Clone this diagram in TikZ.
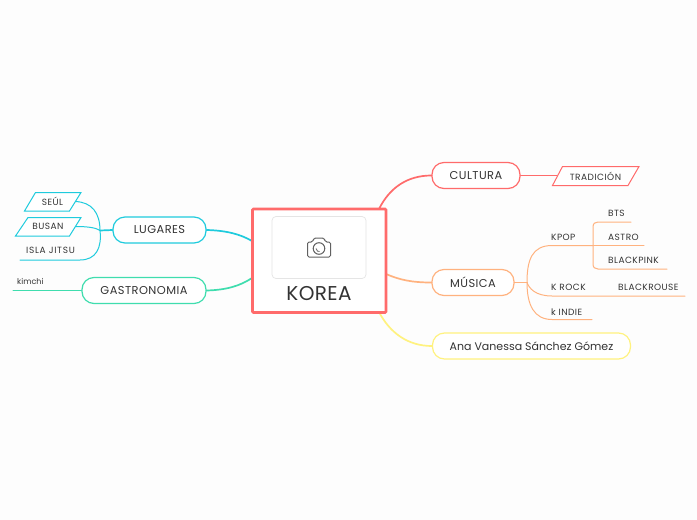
\documentclass[tikz,border=0pt]{standalone}
\usepackage{fontspec}
\setmainfont{Poppins}
\newfontfamily\spacedf[LetterSpace=4]{Poppins}
\newfontfamily\leaff[LetterSpace=5]{Poppins}
\newfontfamily\widef[LetterSpace=8]{Poppins}
\newfontfamily\titlef[LetterSpace=2]{Poppins}
\newcommand{\lowered}[1]{\raisebox{-.8pt}{#1}}
\definecolor{bgc}{HTML}{FDFDFD}
\definecolor{red}{HTML}{FF6B6B}
\definecolor{ora}{HTML}{FFB27F}
\definecolor{yel}{HTML}{FFF27F}
\definecolor{cya}{HTML}{1FCBDD}
\definecolor{gre}{HTML}{3FDDAE}
\definecolor{txt}{HTML}{333333}
\tikzset{x=1pt,y=-1pt,
 branch/.style={draw=#1,rounded corners=12pt,line width=1.2pt,fill=white,minimum height=26pt,inner sep=0pt,text=txt,font=\spacedf\fontsize{11.4}{13}\selectfont,anchor=center},
 leaf/.style={text=txt,font=\leaff\fontsize{9}{11}\selectfont,inner sep=0pt,anchor=center,yshift=-.7pt},
 para/.style={draw=#1,line width=1pt,fill=white,line join=miter},
 link/.style={draw=#1,line width=1pt,line cap=round},
 thick link/.style={draw=#1,line width=1.7pt,line cap=round},
 cam/.style={draw=black!62,line width=1pt,line join=round}}
\begin{document}
\begin{tikzpicture}
\useasboundingbox (0,0) rectangle (697,520);
\fill[bgc] (0,0) rectangle (697,520);
\node[branch=red,minimum width=88pt] (cul) at (476,175.5) {\lowered{CULTURA}};
\node[branch=ora,minimum width=82pt] (mus) at (473,282.5) {\lowered{MÚSICA}};
\node[branch=yel,minimum width=198pt,font=\fontsize{11}{13}\selectfont] (ana) at (531.5,346) {\lowered{Ana Vanessa Sánchez Gómez}};
\node[branch=cya,minimum width=93pt] (lug) at (159.5,230) {\lowered{LUGARES}};
\node[branch=gre,minimum width=124pt] (gas) at (144,290.5) {\lowered{GASTRONOMIA}};
\draw[thick link=red] (379,209) .. controls (390,187) and (408,175.5) .. (cul.west);
\draw[thick link=ora] (386,274) .. controls (400,280) and (412,282.5) .. (mus.west);
\draw[thick link=yel] (379,312) .. controls (390,333) and (408,346) .. (ana.west);
\draw[thick link=cya] (lug.east) .. controls (226,230.5) and (240,234) .. (252,241);
\draw[thick link=gre] (gas.east) .. controls (226,290) and (240,286) .. (252,278);
% main box
\draw[red,line width=2.6pt,rounded corners=1pt,fill=white] (252.5,209) rectangle (386,312.5);
\draw[black!10,line width=.7pt,fill=white,rounded corners=4pt] (272,216.5) rectangle (366,278.5);
\node[text=txt,font=\titlef\fontsize{20}{22}\selectfont,inner sep=0pt] (kor) at (319,293.5) {KOREA};
% camera
\draw[cam,rounded corners=1.5pt] (307.5,257) -- (330.5,257) -- (330.5,242) -- (325.5,242) -- (324,238) -- (314,238) -- (312.5,242) -- (307.5,242) -- cycle;
\draw[cam] (319,248.5) circle (5.8pt);
\draw[cam,line width=.8pt] (316,248.5) arc (180:280:3pt);
% cultura
\coordinate (tradL) at (557,175.5);
\draw[link=red] (cul.east) -- (tradL);
\draw[para=red] (552.5,185.5) -- (562.5,166.5) -- (639,166.5) -- (628,185.5) -- cycle;
\node[leaf] (trad) at (595.5,175.5) {TRADICIÓN};
% musica
\coordinate (hubM) at (527,282.5);
\coordinate (kp) at (593,245.5);
\coordinate (krockE) at (685,296);
\coordinate (kindE) at (592,319.5);
\draw[thick link=ora] (mus.east) -- (hubM);
\draw[link=ora] (hubM) .. controls (527,260) and (532,245.5) .. (552,245.5) -- (kp);
\draw[link=ora] (hubM) .. controls (529,288) and (535,296) .. (552,296) -- (krockE);
\draw[link=ora] (hubM) .. controls (527,305) and (534,319.5) .. (552,319.5) -- (kindE);
\node[leaf,anchor=west] (kpop) at (551,237) {KPOP};
\node[leaf,anchor=west] (krock) at (551,287) {K ROCK};
\node[leaf,anchor=west] (kind) at (551,311) {k INDIE};
\coordinate (btsE) at (631,222);
\coordinate (astE) at (644,245.5);
\coordinate (blkE) at (667,269);
\draw[link=ora] (kp) -- (593,227) .. controls (593,223.5) and (595,222) .. (598,222) -- (btsE);
\draw[link=ora] (kp) -- (astE);
\draw[link=ora] (kp) -- (593,264) .. controls (593,267.5) and (595,269) .. (598,269) -- (blkE);
\node[leaf,anchor=west] (bts) at (608,213) {BTS};
\node[leaf,anchor=west] (astro) at (608,237) {ASTRO};
\node[leaf,anchor=west] (blk) at (608,260) {BLACKPINK};
\node[leaf,anchor=west] (blr) at (618,287) {BLACKROUSE};
% lugares
\coordinate (hubL) at (100,230.5);
\coordinate (seuE) at (75,201.5);
\coordinate (busE) at (75,226.5);
\coordinate (islE) at (20,260);
\draw[thick link=cya] (lug.west) -- (hubL);
\draw[link=cya] (hubL) .. controls (100,213) and (92,202) .. (seuE);
\draw[link=cya] (hubL) .. controls (96,228) and (90,226.5) .. (busE);
\draw[link=cya] (hubL) .. controls (102,248) and (96,260) .. (80,260) -- (islE);
\draw[para=cya] (24.5,211) -- (35.5,192.5) -- (81,192.5) -- (69.5,211) -- cycle;
\draw[para=cya] (15.5,236) -- (28,217.5) -- (81,217.5) -- (69.5,236) -- cycle;
\node[leaf] (seul) at (52.5,200.5) {SEÚL};
\node[leaf] (bus) at (48,225.5) {BUSAN};
\node[leaf,font=\widef\fontsize{9}{11}\selectfont] (isla) at (50.5,249.5) {ISLA JITSU};
% gastronomia
\coordinate (kimE) at (13,290.5);
\draw[link=gre] (gas.west) -- (kimE);
\node[leaf,anchor=west,font=\fontsize{8}{10}\selectfont] (kim) at (17,280.5) {kimchi};
\end{tikzpicture}
\end{document}
